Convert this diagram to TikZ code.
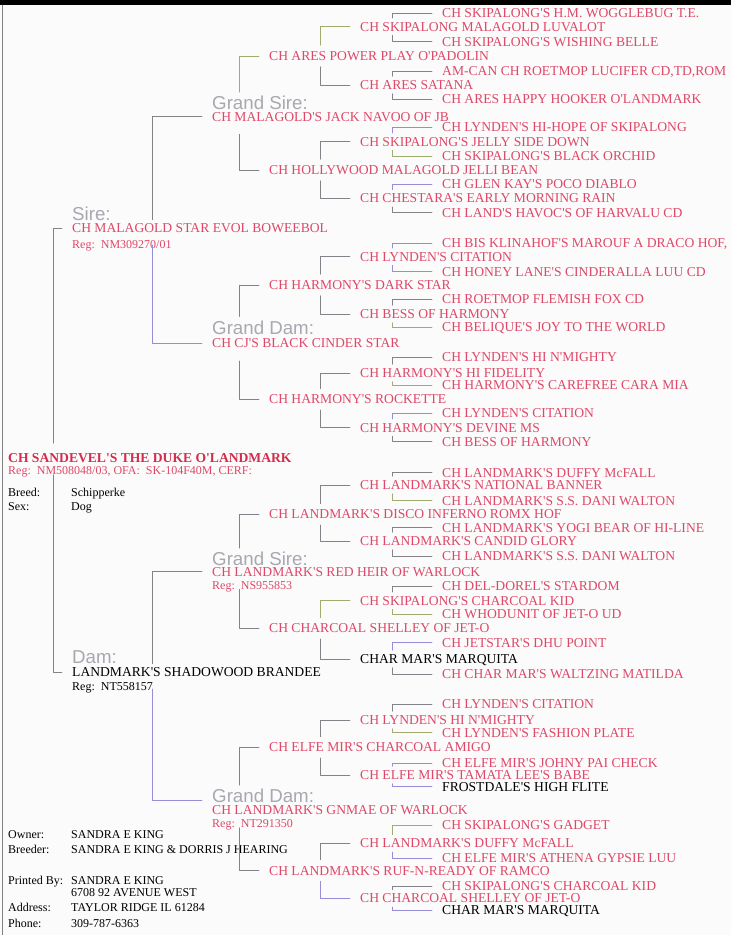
\documentclass[tikz,border=0pt]{standalone}
\usepackage{fontspec}
\setmainfont{Liberation Serif}[Ligatures=TeXOff]
\setsansfont{Liberation Sans}
\definecolor{pedred}{RGB}{222,72,104}
\definecolor{dukered}{RGB}{212,44,76}
\definecolor{lblgrey}{RGB}{168,168,176}
\definecolor{linkgrey}{RGB}{130,130,136}
\definecolor{linkviolet}{RGB}{150,140,215}
\definecolor{linkolive}{RGB}{160,172,110}
\definecolor{pagebg}{RGB}{251,251,251}
\begin{document}
\begin{tikzpicture}[x=1pt,y=-1pt,line join=round,line cap=round,
	dog/.style={anchor=west,inner xsep=0pt,inner ysep=4pt,text height=9pt,text depth=0pt,font=\fontsize{13.6}{14}\selectfont,text=pedred},
	dogb/.style={dog,text=black},
	duke/.style={dog,font=\bfseries\fontsize{13.6}{14}\selectfont,text=dukered},
	reg/.style={anchor=west,inner xsep=0pt,inner ysep=3pt,text height=8pt,text depth=0pt,font=\fontsize{12}{13}\selectfont,text=pedred},
	info/.style={reg,text=black},
	lbl/.style={anchor=west,inner xsep=0pt,inner ysep=4pt,text height=13.4pt,text depth=0pt,font=\sffamily\fontsize{18.7}{19}\selectfont,text=lblgrey},
	link/.style={draw=linkgrey,line width=0.75pt},
	linkv/.style={link,draw=linkviolet},
	linko/.style={link,draw=linkolive}]
	%Khung trang
	\fill[pagebg] (0,0) rectangle (731,935);
	\useasboundingbox (0,0) rectangle (731,935);
	\fill[black] (0,0) rectangle (731,5);
	\draw[line width=1pt,gray] (2.5,5)--(2.5,935);
	%Con cho
	\node[duke] (s) at (8,458) {CH SANDEVEL'S THE DUKE O'LANDMARK};
	\node[reg] (sreg) at (8,470.5) {Reg:\ \ NM508048/03, OFA:\ \ SK-104F40M, CERF:};
	\node[info] (brd) at (8,492) {Breed:};
	\node[info] (brdv) at (71,492) {Schipperke};
	\node[info] (sex) at (8,506) {Sex:};
	\node[info] (sexv) at (71,506) {Dog};
	%Bo me
	\node[lbl] (lsr) at (72,213.3) {Sire:};
	\node[dog] (sr) at (72,228.3) {CH MALAGOLD STAR EVOL BOWEEBOL};
	\node[reg] (srreg) at (72,244) {Reg:\ \ NM309270/01};
	\node[lbl] (ldm) at (72,656.7) {Dam:};
	\node[dogb] (dm) at (72,672.3) {LANDMARK'S SHADOWOOD BRANDEE};
	\node[info] (dmreg) at (72,686.7) {Reg:\ \ NT558157};
	%Ong ba
	\node[lbl] (lga) at (212,103) {Grand Sire:};
	\node[dog] (ga) at (212,116.7) {CH MALAGOLD'S JACK NAVOO OF JB};
	\node[lbl] (lgb) at (212,327.3) {Grand Dam:};
	\node[dog] (gb) at (212,343.3) {CH CJ'S BLACK CINDER STAR};
	\node[lbl] (lgc) at (212,559) {Grand Sire:};
	\node[dog] (gc) at (212,571.7) {CH LANDMARK'S RED HEIR OF WARLOCK};
	\node[reg] (gcreg) at (212,585) {Reg:\ \ NS955853};
	\node[lbl] (lgd) at (212,796) {Grand Dam:};
	\node[dog] (gd) at (212,810) {CH LANDMARK'S GNMAE OF WARLOCK};
	\node[reg] (gdreg) at (212,823) {Reg:\ \ NT291350};
	%Doi thu 3
	\node[dog] (p1) at (269,56) {CH ARES POWER PLAY O'PADOLIN};
	\node[dog] (p2) at (269,170) {CH HOLLYWOOD MALAGOLD JELLI BEAN};
	\node[dog] (p3) at (269,285) {CH HARMONY'S DARK STAR};
	\node[dog] (p4) at (269,399.3) {CH HARMONY'S ROCKETTE};
	\node[dog] (p5) at (269,514.3) {CH LANDMARK'S DISCO INFERNO ROMX HOF};
	\node[dog] (p6) at (269,628.3) {CH CHARCOAL SHELLEY OF JET-O};
	\node[dog] (p7) at (269,747.3) {CH ELFE MIR'S CHARCOAL AMIGO};
	\node[dog] (p8) at (269,870.5) {CH LANDMARK'S RUF-N-READY OF RAMCO};
	%Doi thu 4
	\node[dog] (q1) at (360,26.7) {CH SKIPALONG MALAGOLD LUVALOT};
	\node[dog] (q2) at (360,85) {CH ARES SATANA};
	\node[dog] (q3) at (360,141.7) {CH SKIPALONG'S JELLY SIDE DOWN};
	\node[dog] (q4) at (360,198.3) {CH CHESTARA'S EARLY MORNING RAIN};
	\node[dog] (q5) at (360,256.7) {CH LYNDEN'S CITATION};
	\node[dog] (q6) at (360,314) {CH BESS OF HARMONY};
	\node[dog] (q7) at (360,373) {CH HARMONY'S HI FIDELITY};
	\node[dog] (q8) at (360,427.7) {CH HARMONY'S DEVINE MS};
	\node[dog] (q9) at (360,485) {CH LANDMARK'S NATIONAL BANNER};
	\node[dog] (q10) at (360,541) {CH LANDMARK'S CANDID GLORY};
	\node[dog] (q11) at (360,600.7) {CH SKIPALONG'S CHARCOAL KID};
	\node[dogb] (q12) at (360,659) {CHAR MAR'S MARQUITA};
	\node[dog] (q13) at (360,720) {CH LYNDEN'S HI N'MIGHTY};
	\node[dog] (q14) at (360,775) {CH ELFE MIR'S TAMATA LEE'S BABE};
	\node[dog] (q15) at (360,843.3) {CH LANDMARK'S DUFFY McFALL};
	\node[dog] (q16) at (360,898.3) {CH CHARCOAL SHELLEY OF JET-O};
	%Doi thu 5
	\node[dog] (r1) at (442,13.3) {CH SKIPALONG'S H.M. WOGGLEBUG T.E.};
	\node[dog] (r2) at (442,41.7) {CH SKIPALONG'S WISHING BELLE};
	\node[dog] (r3) at (442,71) {AM-CAN CH ROETMOP LUCIFER CD,TD,ROM};
	\node[dog] (r4) at (442,99.3) {CH ARES HAPPY HOOKER O'LANDMARK};
	\node[dog] (r5) at (442,127.3) {CH LYNDEN'S HI-HOPE OF SKIPALONG};
	\node[dog] (r6) at (442,156) {CH SKIPALONG'S BLACK ORCHID};
	\node[dog] (r7) at (442,184.3) {CH GLEN KAY'S POCO DIABLO};
	\node[dog] (r8) at (442,212.7) {CH LAND'S HAVOC'S OF HARVALU CD};
	\node[dog] (r9) at (442,243.3) {CH BIS KLINAHOF'S MAROUF A DRACO HOF,};
	\node[dog] (r10) at (442,271.7) {CH HONEY LANE'S CINDERALLA LUU CD};
	\node[dog] (r11) at (442,299.3) {CH ROETMOP FLEMISH FOX CD};
	\node[dog] (r12) at (442,327.3) {CH BELIQUE'S JOY TO THE WORLD};
	\node[dog] (r13) at (442,357.3) {CH LYNDEN'S HI N'MIGHTY};
	\node[dog] (r14) at (442,385) {CH HARMONY'S CAREFREE CARA MIA};
	\node[dog] (r15) at (442,413.3) {CH LYNDEN'S CITATION};
	\node[dog] (r16) at (442,441.7) {CH BESS OF HARMONY};
	\node[dog] (r17) at (442,472.7) {CH LANDMARK'S DUFFY McFALL};
	\node[dog] (r18) at (442,500.7) {CH LANDMARK'S S.S. DANI WALTON};
	\node[dog] (r19) at (442,527.7) {CH LANDMARK'S YOGI BEAR OF HI-LINE};
	\node[dog] (r20) at (442,556) {CH LANDMARK'S S.S. DANI WALTON};
	\node[dog] (r21) at (442,586) {CH DEL-DOREL'S STARDOM};
	\node[dog] (r22) at (442,614.3) {CH WHODUNIT OF JET-O UD};
	\node[dog] (r23) at (442,642.7) {CH JETSTAR'S DHU POINT};
	\node[dog] (r24) at (442,674.3) {CH CHAR MAR'S WALTZING MATILDA};
	\node[dog] (r25) at (442,704) {CH LYNDEN'S CITATION};
	\node[dog] (r26) at (442,732.7) {CH LYNDEN'S FASHION PLATE};
	\node[dog] (r27) at (442,763.3) {CH ELFE MIR'S JOHNY PAI CHECK};
	\node[dogb] (r28) at (442,786.7) {FROSTDALE'S HIGH FLITE};
	\node[dog] (r29) at (442,825) {CH SKIPALONG'S GADGET};
	\node[dog] (r30) at (442,858.3) {CH ELFE MIR'S ATHENA GYPSIE LUU};
	\node[dog] (r31) at (442,886) {CH SKIPALONG'S CHARCOAL KID};
	\node[dogb] (r32) at (442,910) {CHAR MAR'S MARQUITA};
	%Chu so huu
	\node[info] (own) at (8,834) {Owner:};
	\node[info] (ownv) at (71,834) {SANDRA E KING};
	\node[info] (brdr) at (8,849.3) {Breeder:};
	\node[info] (brdrv) at (71,849.3) {SANDRA E KING \& DORRIS J HEARING};
	\node[info] (prt) at (8,880.7) {Printed By:};
	\node[info] (prtv) at (71,880.7) {SANDRA E KING};
	\node[info] (adr1) at (71,892.7) {6708 92 AVENUE WEST};
	\node[info] (adr) at (8,907.3) {Address:};
	\node[info] (adr2) at (71,907.3) {TAYLOR RIDGE IL 61284};
	\node[info] (ph) at (8,923.3) {Phone:};
	\node[info] (phv) at (71,923.3) {309-787-6363};
	%Duong noi: con -> bo me
	\draw[link] ([xshift=-10pt]sr.west) -| ([xshift=45pt,yshift=6pt]s.north west);
	\draw[link] ([xshift=45pt,yshift=-8pt]s.south west) |- ([xshift=-10pt]dm.west);
	%bo me -> ong ba
	\draw[link] ([xshift=-10pt]ga.west) -| ([xshift=80pt]sr.north west);
	\draw[linkv] ([xshift=80pt,yshift=-8pt]sr.south west) |- ([xshift=-10pt]gb.west);
	\draw[link] ([xshift=-10pt]gc.west) -| ([xshift=80pt]dm.north west);
	\draw[linkv] ([xshift=80pt,yshift=-8pt]dm.south west) |- ([xshift=-10pt,yshift=-4pt]lgd.west);
	%ong ba -> doi 3
	\draw[linko] ([xshift=-10pt]p1.west) -| ([xshift=27pt]lga.north west);
	\draw[link] ([xshift=27pt,yshift=-9pt]ga.south west) |- ([xshift=-10pt]p2.west);
	\draw[link] ([xshift=-10pt]p3.west) -| ([xshift=27pt]lgb.north west);
	\draw[link] ([xshift=27pt,yshift=-9pt]gb.south west) |- ([xshift=-10pt]p4.west);
	\draw[link] ([xshift=-10pt]p5.west) -| ([xshift=27pt]lgc.north west);
	\draw[link] ([xshift=27pt,yshift=-9pt]gc.south west) |- ([xshift=-10pt]p6.west);
	\draw[link] ([xshift=-10pt]p7.west) -| ([xshift=27pt]lgd.north west);
	\draw[link] ([xshift=27pt,yshift=-9pt]gd.south west) |- ([xshift=-10pt]p8.west);
	%doi 3 -> doi 4
	\draw[linko] ([xshift=-10pt]q1.west) -| ([xshift=51pt,yshift=2pt]p1.north west);
	\draw[link] ([xshift=51pt,yshift=-2pt]p1.south west) |- ([xshift=-10pt]q2.west);
	\draw[link] ([xshift=-10pt]q3.west) -| ([xshift=51pt,yshift=2pt]p2.north west) ([xshift=51pt,yshift=-2pt]p2.south west) |- ([xshift=-10pt]q4.west);
	\draw[link] ([xshift=-10pt]q5.west) -| ([xshift=51pt,yshift=2pt]p3.north west) ([xshift=51pt,yshift=-2pt]p3.south west) |- ([xshift=-10pt]q6.west);
	\draw[link] ([xshift=-10pt]q7.west) -| ([xshift=51pt,yshift=2pt]p4.north west) ([xshift=51pt,yshift=-2pt]p4.south west) |- ([xshift=-10pt]q8.west);
	\draw[link] ([xshift=-10pt]q9.west) -| ([xshift=51pt,yshift=2pt]p5.north west) ([xshift=51pt,yshift=-2pt]p5.south west) |- ([xshift=-10pt]q10.west);
	\draw[linko] ([xshift=-10pt]q11.west) -| ([xshift=51pt,yshift=2pt]p6.north west);
	\draw[link] ([xshift=51pt,yshift=-2pt]p6.south west) |- ([xshift=-10pt]q12.west);
	\draw[link] ([xshift=-10pt]q13.west) -| ([xshift=51pt,yshift=2pt]p7.north west) ([xshift=51pt,yshift=-2pt]p7.south west) |- ([xshift=-10pt]q14.west);
	\draw[link] ([xshift=-10pt]q15.west) -| ([xshift=51pt,yshift=2pt]p8.north west);
	\draw[linkv] ([xshift=51pt,yshift=-2pt]p8.south west) |- ([xshift=-10pt]q16.west);
	%doi 4 -> doi 5
	\draw[link] ([xshift=-10pt]r1.west) -| ([xshift=32pt]q1.north west) ([xshift=32pt]q1.south west) |- ([xshift=-10pt]r2.west);
	\draw[link] ([xshift=-10pt]r3.west) -| ([xshift=32pt]q2.north west) ([xshift=32pt]q2.south west) |- ([xshift=-10pt]r4.west);
	\draw[linkv] ([xshift=-10pt]r5.west) -| ([xshift=32pt]q3.north west);
	\draw[linko] ([xshift=32pt]q3.south west) |- ([xshift=-10pt]r6.west);
	\draw[linkv] ([xshift=-10pt]r7.west) -| ([xshift=32pt]q4.north west);
	\draw[link] ([xshift=32pt]q4.south west) |- ([xshift=-10pt]r8.west);
	\draw[linkv] ([xshift=-10pt]r9.west) -| ([xshift=32pt]q5.north west) ([xshift=32pt]q5.south west) |- ([xshift=-10pt]r10.west);
	\draw[link] ([xshift=-10pt]r11.west) -| ([xshift=32pt]q6.north west);
	\draw[linko] ([xshift=32pt]q6.south west) |- ([xshift=-10pt]r12.west);
	\draw[link] ([xshift=-10pt]r13.west) -| ([xshift=32pt]q7.north west);
	\draw[linko] ([xshift=32pt]q7.south west) |- ([xshift=-10pt]r14.west);
	\draw[linkv] ([xshift=-10pt]r15.west) -| ([xshift=32pt]q8.north west);
	\draw[link] ([xshift=32pt]q8.south west) |- ([xshift=-10pt]r16.west);
	\draw[link] ([xshift=-10pt]r17.west) -| ([xshift=32pt]q9.north west);
	\draw[linko] ([xshift=32pt]q9.south west) |- ([xshift=-10pt]r18.west);
	\draw[link] ([xshift=-10pt]r19.west) -| ([xshift=32pt]q10.north west) ([xshift=32pt]q10.south west) |- ([xshift=-10pt]r20.west);
	\draw[link] ([xshift=-10pt]r21.west) -| ([xshift=32pt]q11.north west);
	\draw[linko] ([xshift=32pt]q11.south west) |- ([xshift=-10pt]r22.west);
	\draw[linkv] ([xshift=-10pt]r23.west) -| ([xshift=32pt]q12.north west);
	\draw[link] ([xshift=32pt]q12.south west) |- ([xshift=-10pt]r24.west);
	\draw[link] ([xshift=-10pt]r25.west) -| ([xshift=32pt]q13.north west);
	\draw[linko] ([xshift=32pt]q13.south west) |- ([xshift=-10pt]r26.west);
	\draw[linkv] ([xshift=-10pt]r27.west) -| ([xshift=32pt]q14.north west) ([xshift=32pt]q14.south west) |- ([xshift=-10pt]r28.west);
	\draw[linko] ([xshift=-10pt]r29.west) -| ([xshift=32pt]q15.north west);
	\draw[linkv] ([xshift=32pt]q15.south west) |- ([xshift=-10pt]r30.west);
	\draw[link] ([xshift=-10pt]r31.west) -| ([xshift=32pt]q16.north west);
	\draw[linkv] ([xshift=32pt]q16.south west) |- ([xshift=-10pt]r32.west);
\end{tikzpicture}
\end{document}
